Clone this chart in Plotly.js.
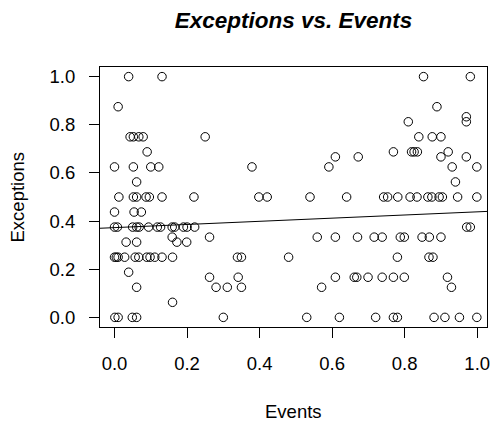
<!DOCTYPE html>
<html>
<head>
<meta charset="utf-8">
<script src="https://cdn.plot.ly/plotly-3.0.1.min.js"></script>
<style>html,body{margin:0;padding:0;background:#fff;}</style>
</head>
<body>
<div id="chart" style="width:492px;height:426px;"></div>
<script>
// Events (x) and Exceptions (y)
const events = [
  0.039, 0.131, 0.010, 0.043, 0.052, 0.067, 0.079, 0.090, 0.000, 0.052, 0.100, 0.122, 0.061,
  0.012, 0.052, 0.061, 0.087, 0.096, 0.131, 0.219, 0.398, 0.421, 0.539, 0.250, 0.379, 0.591, 0.609,
  0.000, 0.054, 0.074,
  0.000, 0.008, 0.050, 0.061, 0.068, 0.094, 0.118, 0.127, 0.159, 0.166, 0.190, 0.200, 0.221,
  0.032, 0.061, 0.159, 0.172, 0.199, 0.262,
  0.000, 0.005, 0.010, 0.028, 0.057, 0.067, 0.089, 0.098, 0.111, 0.131, 0.160,
  0.039, 0.061, 0.160,
  0.001, 0.010, 0.049, 0.061,
  0.339, 0.350, 0.480,
  0.262, 0.280, 0.311, 0.341, 0.350, 0.571, 0.609,
  0.300, 0.530, 0.620,
  0.559, 0.609,
  0.852, 0.981, 0.889, 0.970, 0.970, 0.810,
  0.839, 0.876, 0.900,
  0.769, 0.819, 0.826, 0.835, 0.920,
  0.672, 0.900, 0.970,
  0.931, 0.999,
  0.940,
  0.640, 0.742, 0.753, 0.781, 0.815, 0.834, 0.864, 0.875, 0.895, 0.904, 0.946, 0.999,
  0.971, 0.981,
  0.670, 0.716, 0.738, 0.788, 0.799, 0.848, 0.868, 0.900,
  0.780, 0.867, 0.878,
  0.661, 0.668, 0.699, 0.738, 0.769, 0.799, 0.918,
  0.929,
  0.720, 0.769, 0.780, 0.881, 0.911, 0.951, 0.999
];
const exceptions = [
  1.0, 1.0, 0.875, 0.75, 0.75, 0.75, 0.75, 0.6875, 0.625, 0.625, 0.625, 0.625, 0.5625,
  0.5, 0.5, 0.5, 0.5, 0.5, 0.5, 0.5, 0.5, 0.5, 0.5, 0.75, 0.625, 0.625, 0.6667,
  0.4375, 0.4375, 0.4375,
  0.375, 0.375, 0.375, 0.375, 0.375, 0.375, 0.375, 0.375, 0.375, 0.375, 0.375, 0.375, 0.375,
  0.3125, 0.3125, 0.3333, 0.3125, 0.3125, 0.3333,
  0.25, 0.25, 0.25, 0.25, 0.25, 0.25, 0.25, 0.25, 0.25, 0.25, 0.25,
  0.1875, 0.125, 0.0625,
  0.0, 0.0, 0.0, 0.0,
  0.25, 0.25, 0.25,
  0.1667, 0.125, 0.125, 0.1667, 0.125, 0.125, 0.1667,
  0.0, 0.0, 0.0,
  0.3333, 0.3333,
  1.0, 1.0, 0.875, 0.8333, 0.8125, 0.8125,
  0.75, 0.75, 0.75,
  0.6875, 0.6875, 0.6875, 0.6875, 0.6875,
  0.6667, 0.6667, 0.6667,
  0.625, 0.625,
  0.5625,
  0.5, 0.5, 0.5, 0.5, 0.5, 0.5, 0.5, 0.5, 0.5, 0.5, 0.5, 0.5,
  0.375, 0.375,
  0.3333, 0.3333, 0.3333, 0.3333, 0.3333, 0.3333, 0.3333, 0.3333,
  0.25, 0.25, 0.25,
  0.1667, 0.1667, 0.1667, 0.1667, 0.1667, 0.1667, 0.1667,
  0.125,
  0.0, 0.0, 0.0, 0.0, 0.0, 0.0, 0.0
];
const tickVals = [0, 0.2, 0.4, 0.6, 0.8, 1.0];
const tickText = ["0.0", "0.2", "0.4", "0.6", "0.8", "1.0"];

// least-squares fit (abline(lm(y ~ x)))
const n = events.length;
const mx = events.reduce((a, b) => a + b, 0) / n;
const my = exceptions.reduce((a, b) => a + b, 0) / n;
let sxy = 0, sxx = 0;
for (let i = 0; i < n; i++) { sxy += (events[i] - mx) * (exceptions[i] - my); sxx += (events[i] - mx) ** 2; }
const slope = sxy / sxx;
const intercept = my - slope * mx;

const xRange = [-0.04, 1.027];
const yRange = [-0.04, 1.04];
const font = "Liberation Sans, Arial, Helvetica, sans-serif";

const traces = [{
  type: "scatter", mode: "markers", x: events, y: exceptions,
  marker: {symbol: "circle-open", size: 8.5, color: "#000", line: {width: 1, color: "#000"}},
  hoverinfo: "x+y", showlegend: false
}, {
  type: "scatter", mode: "lines", x: xRange, y: xRange.map(v => intercept + slope * v),
  line: {color: "#000", width: 1}, showlegend: false, hoverinfo: "skip"
}];

const axisCommon = {
  tickvals: tickVals, ticktext: tickText, ticks: "outside", ticklen: 10, tickwidth: 1,
  tickcolor: "#000", showgrid: false, zeroline: false, showline: true, mirror: true,
  linecolor: "#000", linewidth: 1, tickfont: {family: font, size: 18.5, color: "#000"},
  automargin: false, ticklabelstandoff: 10
};

const layout = {
  width: 492, height: 426,
  margin: {l: 100, r: 5, t: 67, b: 99},
  paper_bgcolor: "#fff", plot_bgcolor: "#fff",
  title: {text: "<b><i>Exceptions vs. Events</i></b>", font: {family: font, size: 22.5, color: "#000"},
          x: 0.5, xref: "paper", y: 1 - 20 / 426, yref: "container", yanchor: "middle"},
  xaxis: Object.assign({}, axisCommon, {range: xRange}),
  yaxis: Object.assign({}, axisCommon, {range: yRange}),
  annotations: [
    {text: "Events", xref: "paper", yref: "paper", x: 0.5, y: (327 - 411.7) / 260,
     showarrow: false, xanchor: "center", yanchor: "middle", font: {family: font, size: 18.5, color: "#000"}},
    {text: "Exceptions", xref: "paper", yref: "paper", x: (16.5 - 100) / 387, y: 0.5, textangle: -90,
     showarrow: false, xanchor: "center", yanchor: "middle", font: {family: font, size: 18.5, color: "#000"}}
  ]
};

Plotly.newPlot("chart", traces, layout, {displayModeBar: false, staticPlot: true});
</script>
</body>
</html>
